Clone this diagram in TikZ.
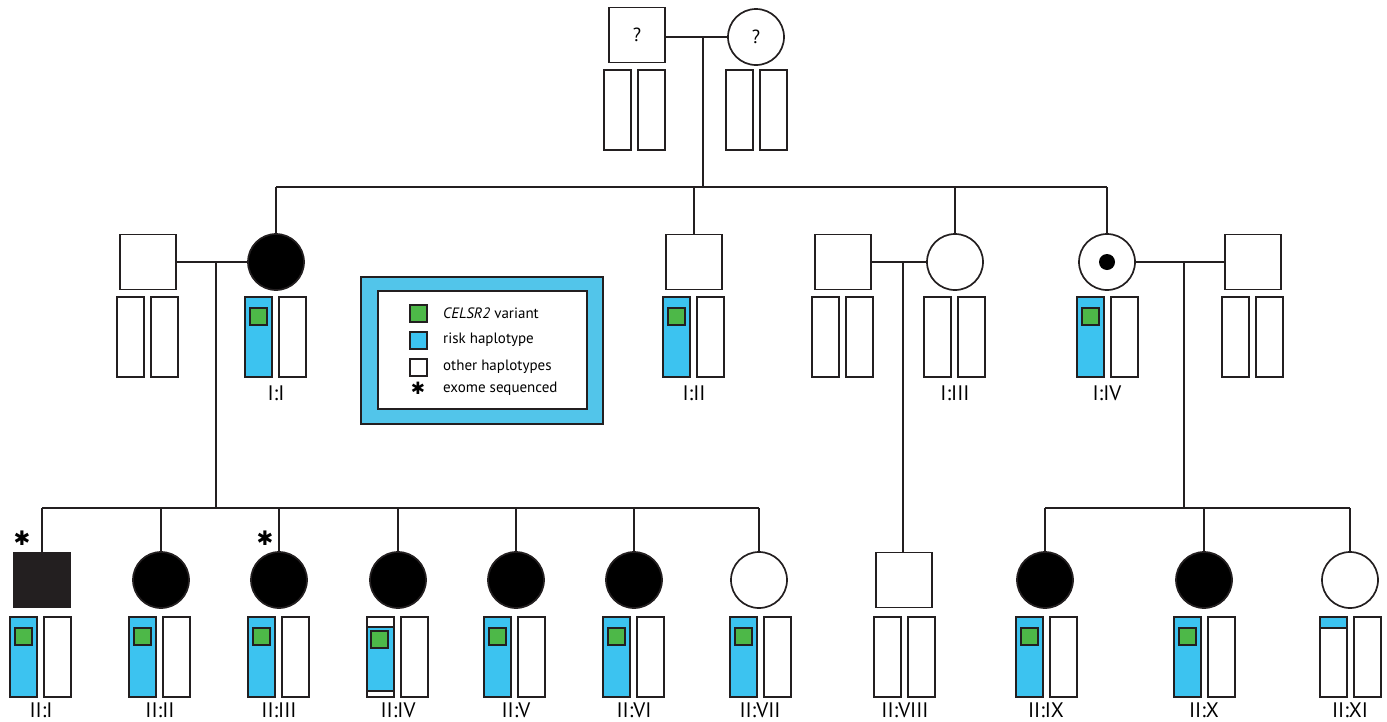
\documentclass[tikz,border=0pt]{standalone}
\usepackage{fontspec}
\setmainfont{PT Sans}
\newfontfamily\symfont{DejaVu Sans}
\definecolor{risk}{HTML}{3CC3F0}
\definecolor{var}{HTML}{4DB848}
\definecolor{legblue}{HTML}{52C5EA}
\definecolor{dark}{HTML}{231F20}
\tikzset{
  ln/.style={line width=1.7pt, draw=dark},
  male/.style={rectangle, draw=dark, line width=1.7pt, minimum width=56pt, minimum height=55pt, inner sep=0pt},
  female/.style={circle, draw=dark, line width=1.7pt, minimum size=56pt, inner sep=0pt},
  aff/.style={fill=black},
  hapbar/.style={draw=dark, line width=1.6pt, fill=white},
  lbl/.style={font=\fontsize{21}{22}\selectfont, inner sep=0pt},
  legtxt/.style={font=\fontsize{15}{17}\selectfont, anchor=west, inner sep=0pt},
  star/.style={font=\symfont\fontsize{20}{20}\selectfont, inner sep=0pt}
}
\newcommand\hbars[2]{%
  \draw[hapbar] (#1-31,#2) rectangle (#1-4,#2+80);
  \draw[hapbar] (#1+3,#2) rectangle (#1+30,#2+80);}
\newcommand\hrisk[2]{%
  \draw[hapbar,fill=risk] (#1-31,#2) rectangle (#1-4,#2+80);
  \draw[hapbar,fill=var] (#1-26,#2+11) rectangle (#1-9,#2+28);
  \draw[hapbar] (#1+3,#2) rectangle (#1+30,#2+80);}
\begin{document}
\begin{tikzpicture}[x=1pt,y=-1pt]
\useasboundingbox (0,0) rectangle (1387,721);
% ---------- founders
\node[male] (F0) at (637,35) {\fontsize{19}{20}\selectfont ?};
\node[female] (M0) at (756,37) {\fontsize{19}{20}\selectfont ?};
\hbars{635}{70}
\hbars{757}{70}
\coordinate (m0) at (703,37);
\coordinate (s0) at (703,187);
\draw[ln] (F0.east |- m0) -- (M0.west);
\draw[ln] (m0) -- (s0);
% ---------- generation I
\node[male] (S1) at (148,262) {};
\node[female,aff] (I1) at (276,262) {};
\node[male] (I2) at (694,262) {};
\node[male] (S3) at (843,262) {};
\node[female] (I3) at (955,262) {};
\node[female] (I4) at (1107,262) {};
\fill (I4.center) circle (8);
\node[male] (S4) at (1253,262) {};
\hbars{148}{297}
\hrisk{276}{297}
\hrisk{694}{297}
\hbars{843}{297}
\hbars{955}{297}
\hrisk{1108}{297}
\hbars{1253}{297}
\node[lbl] (LI1) at (276,393) {I:I};
\node[lbl] (LI2) at (694,393) {I:II};
\node[lbl] (LI3) at (955,393) {I:III};
\node[lbl] (LI4) at (1107,393) {I:IV};
% sibship of founders
\coordinate (a0) at (I1 |- s0);
\coordinate (b0) at (I4 |- s0);
\draw[ln] (a0) -- (b0);
\draw[ln] (a0) -- (I1.north);
\draw[ln] (I2 |- s0) -- (I2.north);
\draw[ln] (I3 |- s0) -- (I3.north);
\draw[ln] (b0) -- (I4.north);
% marriages
\coordinate (m1) at (216,262);
\coordinate (m2) at (903,262);
\coordinate (m3) at (1184,262);
\draw[ln] (S1.east) -- (I1.west);
\draw[ln] (S3.east) -- (I3.west);
\draw[ln] (I4.east) -- (S4.west);
% ---------- generation II
\node[male,fill=dark] (J1) at (42,580) {};
\node[female,aff] (J2) at (161,580) {};
\node[female,aff] (J3) at (279,580) {};
\node[female,aff] (J4) at (398,580) {};
\node[female,aff] (J5) at (516,580) {};
\node[female,aff] (J6) at (634,580) {};
\node[female] (J7) at (759,580) {};
\node[male] (J8) at (904,580) {};
\node[female,aff] (J9) at (1045,580) {};
\node[female,aff] (J10) at (1204,580) {};
\node[female] (J11) at (1350,580) {};
\hrisk{41}{617}
\hrisk{160}{617}
\hrisk{279}{617}
% II:IV
\draw[hapbar] (367,617) rectangle (394,697);
\fill[risk] (367,627) rectangle (394,691);
\draw[dark,line width=1.3pt] (367,627) -- (394,627);
\draw[dark,line width=1.3pt] (367,691) -- (394,691);
\draw[dark,line width=1.6pt] (367,617) rectangle (394,697);
\draw[hapbar,fill=var] (371,631) rectangle (388,648);
\draw[hapbar] (401,617) rectangle (428,697);
\hrisk{515}{617}
\hrisk{634}{617}
\hrisk{761}{617}
\hbars{905}{617}
\hrisk{1047}{617}
\hrisk{1205}{617}
% II:XI
\draw[hapbar] (1320,617) rectangle (1347,697);
\fill[risk] (1320,617) rectangle (1347,628);
\draw[dark,line width=1.3pt] (1320,628) -- (1347,628);
\draw[dark,line width=1.6pt] (1320,617) rectangle (1347,697);
\draw[hapbar] (1354,617) rectangle (1381,697);
% labels
\foreach \n/\x/\t in {1/41/II:I,2/160/II:II,3/279/II:III,4/398/II:IV,5/516/II:V,6/634/II:VI,7/760/II:VII,8/905/II:VIII,9/1046/II:IX,10/1204/II:X,11/1350/II:XI}
  \node[lbl,anchor=north] (LJ\n) at (\x,703) {\t};
% sibships
\coordinate (s1) at (216,508);
\coordinate (s3) at (1184,508);
\draw[ln] (m1) -- (s1);
\draw[ln] (J1.north |- s1) -- (J7.north |- s1);
\foreach \j in {J1,J2,J3,J4,J5,J6,J7} \draw[ln] (\j.north |- s1) -- (\j.north);
\draw[ln] (m2) -- (J8.north -| m2);
\draw[ln] (m3) -- (s3);
\draw[ln] (J9.north |- s3) -- (J11.north |- s3);
\foreach \j in {J9,J10,J11} \draw[ln] (\j.north |- s3) -- (\j.north);
% asterisks
\node[star] (A1) at (22,538) {✱};
\node[star] (A3) at (265,538) {✱};
% ---------- legend
\draw[line width=1.8pt, draw=dark, fill=legblue] (361,277) rectangle (603,424);
\draw[line width=1.8pt, draw=dark, fill=white] (378,291) rectangle (587,409);
\draw[hapbar,fill=var] (410,305) rectangle (427,322);
\draw[hapbar,fill=risk] (410,332) rectangle (427,349);
\draw[hapbar] (410,359) rectangle (427,376);
\node[star,font=\symfont\fontsize{17}{17}\selectfont] (A0) at (418,388) {✱};
\node[legtxt] (T1) at (443,313) {\textit{CELSR2} variant};
\node[legtxt] (T2) at (443,340) {risk haplotype};
\node[legtxt] (T3) at (443,367) {other haplotypes};
\node[legtxt] (T4) at (443,389) {exome sequenced};
\end{tikzpicture}
\end{document}
